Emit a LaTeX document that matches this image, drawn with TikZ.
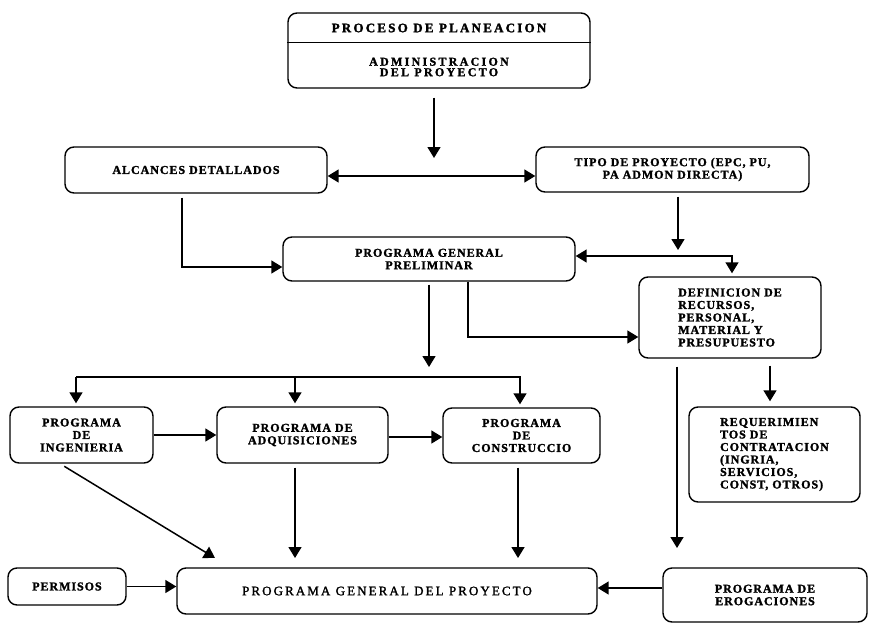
\documentclass[tikz,border=0pt]{standalone}
\usepackage{fontspec}
\setmainfont{Liberation Serif}
\newfontfamily\lblA[LetterSpace=8, BoldFeatures={FakeBold=1.6}]{Liberation Serif}
\newfontfamily\lblT[LetterSpace=17, BoldFeatures={FakeBold=1.8}]{Liberation Serif}
\newfontfamily\lblS[LetterSpace=19, BoldFeatures={FakeBold=1.6}]{Liberation Serif}
\newfontfamily\lblG[LetterSpace=16, FakeBold=1.6]{Liberation Serif}
\usetikzlibrary{arrows.meta}
\begin{document}
\begin{tikzpicture}[x=1pt,y=-1pt,
  lbl/.style={font=\lblA\bfseries\fontsize{12}{12.5}\selectfont},
  box/.style={draw, line width=1.4pt, rounded corners=9pt, inner sep=0pt, align=center, lbl},
  txt/.style={inner sep=0pt, align=center},
  arr/.style={line width=1.5pt, -{Triangle[length=11pt,width=13pt]}},
  arrb/.style={line width=1.5pt, {Triangle[length=11pt,width=13pt]}-{Triangle[length=11pt,width=13pt]}}]
\useasboundingbox[fill=white] (0,0) rectangle (869,623);

% boxes
\node[box, minimum width=302pt, minimum height=75pt] (top) at (439,50.5) {};
\node[txt, font=\lblT\bfseries\fontsize{13}{13}\selectfont] (toptitle) at (439,28) {PROCESO DE PLANEACION};
\node[txt, font=\lblS\bfseries\fontsize{12}{10.5}\selectfont] (topsub) at (439,67) {ADMINISTRACION\\DEL PROYECTO};
\draw[line width=1.4pt] ([yshift=-30pt]top.north west) -- ([yshift=-30pt]top.north east);

\node[box, minimum width=262pt, minimum height=46pt] (alc) at (196,170) {ALCANCES DETALLADOS};
\node[box, minimum width=273pt, minimum height=45pt] (tipo) at (672.5,169.5) {TIPO DE PROYECTO (EPC, PU,\\PA ADMON DIRECTA)};
\node[box, minimum width=292pt, minimum height=44pt] (pgp) at (429,259) {PROGRAMA GENERAL\\PRELIMINAR};
\node[box, minimum width=182pt, minimum height=81pt, align=left] (def) at (730,317.5) {DEFINICION DE\\RECURSOS,\\PERSONAL,\\MATERIAL Y\\PRESUPUESTO};
\node[box, minimum width=143pt, minimum height=56pt] (ing) at (81.5,435) {PROGRAMA\\DE\\INGENIERIA};
\node[box, minimum width=171pt, minimum height=56pt] (adq) at (302.5,435) {PROGRAMA DE\\ADQUISICIONES};
\node[box, minimum width=157pt, minimum height=55pt] (cons) at (521.5,435.5) {PROGRAMA\\DE\\CONSTRUCCIO};
\node[box, minimum width=171pt, minimum height=95pt, align=left] (req) at (774.5,454.5) {REQUERIMIEN\\TOS DE\\CONTRATACION\\(INGRIA,\\SERVICIOS,\\CONST, OTROS)};
\node[box, minimum width=118pt, minimum height=37pt] (perm) at (67,586.5) {PERMISOS};
\node[box, minimum width=420pt, minimum height=46pt, font=\lblG\fontsize{13}{14}\selectfont] (pgdp) at (387,591) {PROGRAMA GENERAL DEL PROYECTO};
\node[box, minimum width=204pt, minimum height=54pt] (erog) at (765,595) {PROGRAMA DE\\EROGACIONES};

% coordinates
\coordinate (c1) at (434,158);
\coordinate (a1) at (182,267);
\coordinate (t1) at (678,250);
\coordinate (d1) at (732,256);
\coordinate (p1) at (429,367);
\coordinate (h1) at (76,377);
\coordinate (h2) at (295,377);
\coordinate (h3) at (520,377);
\coordinate (e1) at (468,337);
\coordinate (r1) at (770,402);
\coordinate (g1) at (677,548);
\coordinate (k1) at (215,558);
\coordinate (m1) at (295,558);
\coordinate (n1) at (518,558);
\coordinate (q1) at (0,588);

% connectors
\draw[arr, shorten <=9pt] (top.south -| c1) -- (c1);
\draw[arrb] ([yshift=-6pt]alc.east) -- ([yshift=-6pt]alc.east -| tipo.west);
\draw[arr, shorten <=4pt] (alc.south -| a1) -- (a1) -- (a1 -| pgp.west);
\draw[arr, shorten <=4pt] (tipo.south -| t1) -- (t1);
\draw[arrb, shorten >=3pt] (pgp.east |- d1) -- (d1) -- (d1 |- def.north);
\draw[arr, shorten <=3pt] (pgp.south) -- (p1);
\draw[arr, shorten >=3pt] (h1) -- (h1 |- ing.north);
\draw[arr, shorten >=3pt] (h2) -- (h2 |- adq.north);
\draw[arr, shorten >=3pt] (h1) -- (h3) -- (h3 |- cons.north);
\draw[arr] (pgp.south -| e1) -- (e1) -- (e1 -| def.west);
\draw[arr] (ing.east) -- (ing.east -| adq.west);
\draw[arr] ([yshift=-2pt]adq.east) -- ([yshift=-2pt]adq.east -| cons.west);
\draw[arr, shorten <=7pt, shorten >=5pt] (def.south -| r1) -- (r1 |- req.north);
\draw[arr, shorten <=8pt] (def.south -| g1) -- (g1);
\draw[arr, shorten <=5pt] ([xshift=-21.5pt]ing.south) -- (k1);
\draw[arr, shorten <=4pt] (adq.south -| m1) -- (m1);
\draw[arr, shorten <=4pt] (cons.south -| n1) -- (n1);
\draw[arr] (erog.west |- q1) -- (pgdp.east |- q1);
\draw[arr] (perm.east) -- (perm.east -| pgdp.west);
\end{tikzpicture}
\end{document}
